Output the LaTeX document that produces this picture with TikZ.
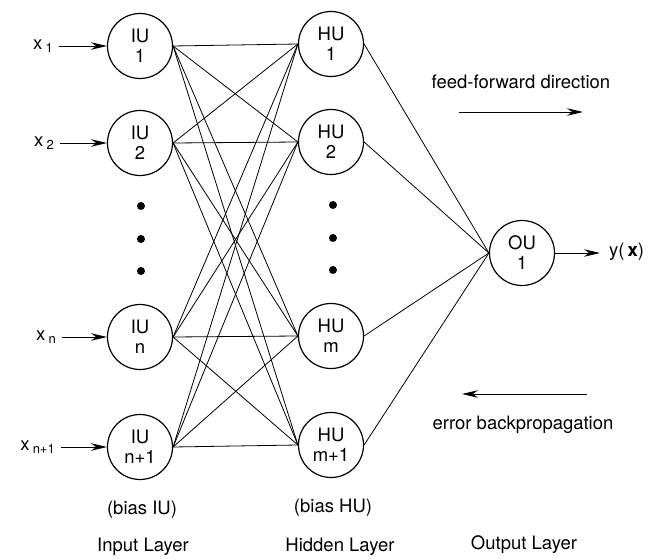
\documentclass[tikz,border=0pt]{standalone}
\usepackage{fontspec}
\setmainfont{TeX Gyre Heros}
\usetikzlibrary{arrows.meta}
% lowered subscript for the input labels
\newcommand\lowsub[1]{\,\raisebox{-3.5pt}{\fontsize{13}{14}\selectfont #1}}
\begin{document}
\begin{tikzpicture}[x=1pt,y=-1pt,
  font=\fontsize{18.5}{20}\selectfont,
  unit/.style={circle,draw,line width=1.2pt,minimum size=65pt,inner sep=0pt,align=center},
  link/.style={line width=0.8pt},
  flow/.style={line width=0.9pt,-{Stealth[length=16pt,width=7.5pt]}},
  dotmark/.style={circle,fill,minimum size=8pt,inner sep=0pt},
  inlabel/.style={anchor=east,inner xsep=6pt,inner ysep=0pt},
  caption/.style={inner sep=0pt}]
\useasboundingbox (0,0) rectangle (662,559);

% input layer
\node[unit] (i1) at (140,46)  {IU\\1};
\node[unit] (i2) at (140,143) {IU\\2};
\node[unit] (in) at (140,337) {IU\\n};
\node[unit] (ib) at (140,447) {IU\\n+1};

% hidden layer
\node[unit] (h1) at (331,44)  {HU\\1};
\node[unit] (h2) at (331,142) {HU\\2};
\node[unit] (hm) at (331,336) {HU\\m};
\node[unit] (hb) at (331,445) {HU\\m+1};

% output layer
\node[unit] (o) at (522,253) {OU\\1};

% ellipsis dots
\node[dotmark] (di1) at (141,206) {};
\node[dotmark] (di2) at (141,239) {};
\node[dotmark] (di3) at (141,271) {};
\node[dotmark] (dh1) at (333,205) {};
\node[dotmark] (dh2) at (333,238) {};
\node[dotmark] (dh3) at (333,270) {};

% full connections input -> hidden -> output
\foreach \a in {i1,i2,in,ib}
  \foreach \b in {h1,h2,hm,hb}
    \draw[link] (\a.east) -- (\b.west);
\foreach \b in {h1,h2,hm,hb}
  \draw[link] (\b.east) -- (o.west);

% inputs
\node[inlabel] (lx1) at (59,46)  {x\lowsub{1}};
\node[inlabel] (lx2) at (60,143) {x\lowsub{2}};
\node[inlabel] (lxn) at (62,337) {x\lowsub{n}};
\node[inlabel] (lxb) at (61,447) {x\lowsub{n+1}};
\draw[flow] (lx1.east |- i1) -- (i1);
\draw[flow] (lx2.east |- i2) -- (i2);
\draw[flow] (lxn.east |- in) -- (in);
\draw[flow] (lxb.east |- ib) -- (ib);

% output
\node[anchor=west,inner xsep=9pt] (yx) at (600,252) {y(\,\textbf{x})};
\draw[flow] (o) -- (yx.west |- o);

% direction annotations
\node[caption] (fftext) at (521,82) {feed-forward direction};
\coordinate (ffa) at (459,112);
\coordinate (ffb) at (583,112);
\draw[flow] (ffa) -- (ffb);
\node[caption] (bptext) at (523,425) {error backpropagation};
\coordinate (bpa) at (587,394);
\coordinate (bpb) at (462,394);
\draw[flow] (bpa) -- (bpb);

% layer captions
\node[caption] (biasi) at (142,510) {(bias IU)};
\node[caption] (biash) at (333,508) {(bias HU)};
\node[caption] (capi) at (143,547) {Input Layer};
\node[caption] (caph) at (340,547) {Hidden Layer};
\node[caption] (capo) at (524,545) {Output Layer};
\end{tikzpicture}
\end{document}
